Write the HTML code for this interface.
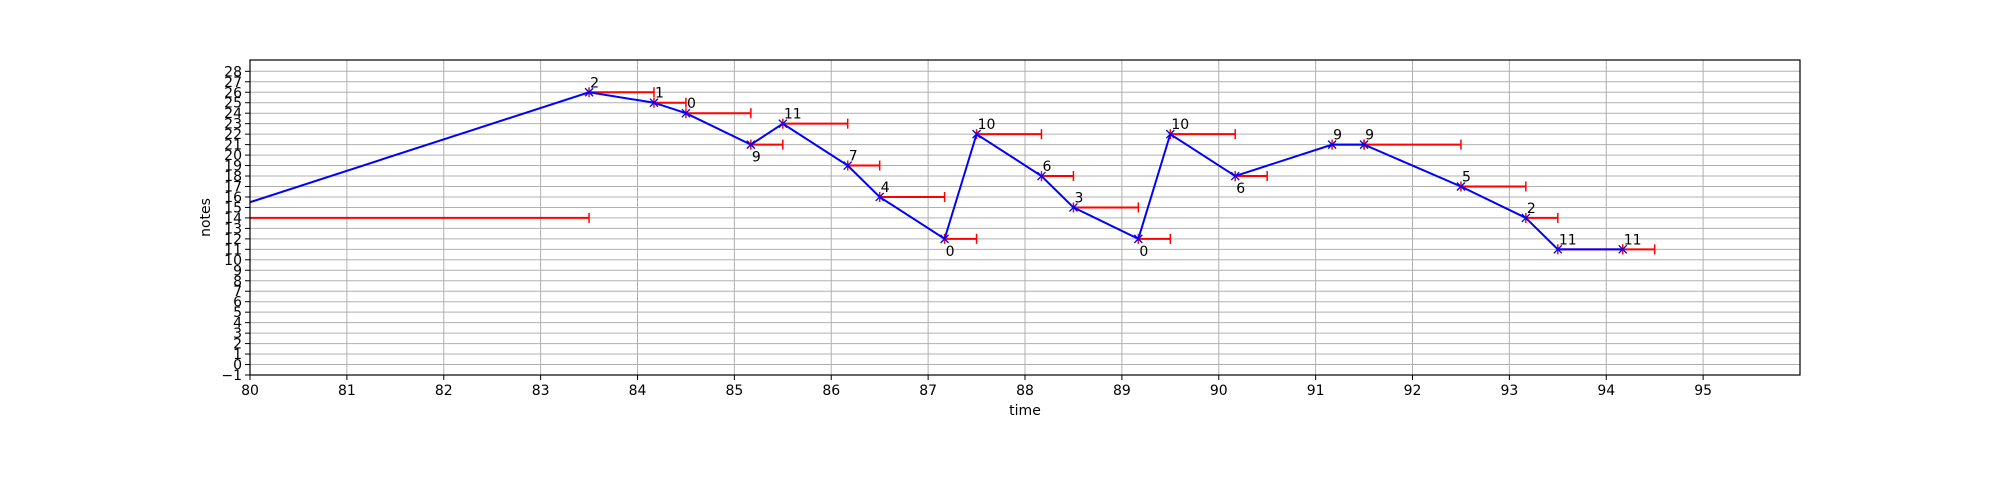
<!DOCTYPE html>
<html><head><meta charset="utf-8">
<style>
html,body{margin:0;padding:0;background:#fff;}
svg{display:block;font-family:"DejaVu Sans","Liberation Sans",sans-serif;}
</style></head>
<body>
<svg id="chart" width="2000" height="500" viewBox="0 0 2000 500"></svg>
<script>
const times = [79.5, 83.5, 84.17, 84.5, 85.17, 85.5, 86.17, 86.5, 87.17, 87.5, 88.17, 88.5, 89.17, 89.5, 90.17, 91.17, 91.5, 92.5, 93.17, 93.5, 94.17];
const notes = [14, 26, 25, 24, 21, 23, 19, 16, 12, 22, 18, 15, 12, 22, 18, 21, 21, 17, 14, 11, 11];
const durations = [4, 0.67, 0.33, 0.67, 0.33, 0.67, 0.33, 0.67, 0.33, 0.67, 0.33, 0.67, 0.33, 0.67, 0.33, 0.33, 1, 0.67, 0.33, 0.67, 0.33];
const labels = ["", "2", "1", "0", "9", "11", "7", "4", "0", "10", "6", "3", "0", "10", "6", "9", "9", "5", "2", "11", "11"];
const labelBelow = [0,0,0,0,1,0,0,0,1,0,0,0,1,0,1,0,0,0,0,0,0];
const xTicks = [80,81,82,83,84,85,86,87,88,89,90,91,92,93,94,95];
const yTicks = [];
for (let v = -1; v <= 28; v++) yTicks.push(v);

const L=250,R=1800,T=60,B=375;
const xMin=80,xMax=96,yMin=-1,yMax=29.08;
const X=v=>L+(v-xMin)/(xMax-xMin)*(R-L);
const Y=v=>B-(v-yMin)/(yMax-yMin)*(B-T);
const NS="http://www.w3.org/2000/svg";
const svg=document.getElementById('chart');
function mk(tag,attrs,parent){const e=document.createElementNS(NS,tag);for(const k in attrs)e.setAttribute(k,attrs[k]);(parent||svg).appendChild(e);return e;}

const defs=mk('defs',{});
const cp=mk('clipPath',{id:'clip'},defs);
mk('rect',{x:L,y:T,width:R-L,height:B-T},cp);

const grid=mk('g',{});


xTicks.forEach(t=>{mk('line',{x1:X(t),x2:X(t),y1:T,y2:B,stroke:'#b0b0b0','stroke-width':1},grid);});
yTicks.forEach(t=>{mk('line',{x1:L,x2:R,y1:Y(t),y2:Y(t),stroke:'#b0b0b0','stroke-width':1},grid);});

const plot=mk('g',{'clip-path':'url(#clip)'});



times.forEach((t,i)=>{
  const g=mk('g',{},plot);
  
  
  const x1=X(t),x2=X(t+durations[i]),y=Y(notes[i]);
  mk('line',{x1:x1,x2:x2,y1:y,y2:y,stroke:'#ff0000','stroke-width':2},g);
  mk('line',{x1:x1,x2:x1,y1:y-5,y2:y+5,stroke:'#ff0000','stroke-width':1.5},g);
  mk('line',{x1:x2,x2:x2,y1:y-5,y2:y+5,stroke:'#ff0000','stroke-width':1.5},g);
});
const pts=times.map((t,i)=>X(t)+','+Y(notes[i])).join(' ');
const pl=mk('polyline',{points:pts,fill:'none',stroke:'#0000ff','stroke-width':2},plot);


times.forEach((t,i)=>{
  const x=X(t),y=Y(notes[i]);
  const m=mk('path',{d:`M${x-4},${y-4}L${x+4},${y+4}M${x-4},${y+4}L${x+4},${y-4}`,stroke:'#0000ff','stroke-width':1.3},plot);
  
  
  if(labels[i]){
    const tx=mk('text',{x:x+1,y:labelBelow[i]?y+17:y-5,'font-size':14,fill:'#000'},plot);
    tx.textContent=labels[i];
    
    
  }
});

const frame=mk('rect',{x:L,y:T,width:R-L,height:B-T,fill:'none',stroke:'#000','stroke-width':1.2});



xTicks.forEach(t=>{
  mk('line',{x1:X(t),x2:X(t),y1:B,y2:B+5,stroke:'#000','stroke-width':1});
  const tx=mk('text',{x:X(t),y:B+20,'font-size':14,'text-anchor':'middle'});
  tx.textContent=t;
  
  
});
yTicks.forEach(t=>{
  mk('line',{x1:L-5,x2:L,y1:Y(t),y2:Y(t),stroke:'#000','stroke-width':1});
  const tx=mk('text',{x:L-8,y:Y(t)+5,'font-size':14,'text-anchor':'end'});
  tx.textContent=t<0?'\u2212'+(-t):t;
  
  
});
const xl=mk('text',{x:(L+R)/2,y:415,'font-size':14,'text-anchor':'middle'});
xl.textContent='time';


const yl=mk('text',{x:0,y:0,'font-size':14,'text-anchor':'middle',transform:`translate(210,${(T+B)/2}) rotate(-90)`});
yl.textContent='notes';


</script>
</body></html>
